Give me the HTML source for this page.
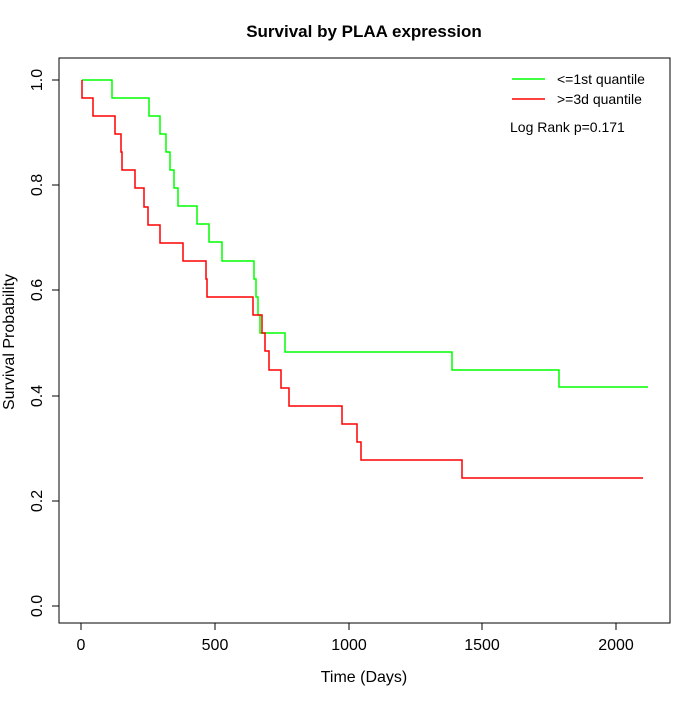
<!DOCTYPE html>
<html><head><style>body{margin:0;background:#fff}</style></head><body>
<svg width="700" height="700" xmlns="http://www.w3.org/2000/svg" font-family="Liberation Sans, sans-serif">
<rect width="700" height="700" fill="#fff"/>
<text x="364" y="37" text-anchor="middle" font-size="17" font-weight="bold">Survival by PLAA expression</text>
<rect x="59" y="58" width="611" height="565" fill="none" stroke="#000" stroke-width="1"/>
<g stroke="#000" stroke-width="1">
<line x1="81" y1="623" x2="616" y2="623"/>
<line x1="81" y1="623" x2="81" y2="630"/><line x1="215" y1="623" x2="215" y2="630"/><line x1="349" y1="623" x2="349" y2="630"/><line x1="482" y1="623" x2="482" y2="630"/><line x1="616" y1="623" x2="616" y2="630"/>
<line x1="59" y1="80" x2="59" y2="606"/>
<line x1="52" y1="80" x2="59" y2="80"/><line x1="52" y1="185" x2="59" y2="185"/><line x1="52" y1="290" x2="59" y2="290"/><line x1="52" y1="396" x2="59" y2="396"/><line x1="52" y1="501" x2="59" y2="501"/><line x1="52" y1="606" x2="59" y2="606"/>
</g>
<g font-size="16" text-anchor="middle">
<text x="81" y="650">0</text><text x="215" y="650">500</text><text x="349" y="650">1000</text><text x="482" y="650">1500</text><text x="616" y="650">2000</text>
<text x="364" y="682">Time (Days)</text>
<text transform="translate(42,80) rotate(-90)">1.0</text>
<text transform="translate(42,185) rotate(-90)">0.8</text>
<text transform="translate(42,290) rotate(-90)">0.6</text>
<text transform="translate(42,396) rotate(-90)">0.4</text>
<text transform="translate(42,501) rotate(-90)">0.2</text>
<text transform="translate(42,606) rotate(-90)">0.0</text>
<text transform="translate(14,342) rotate(-90)">Survival Probability</text>
</g>
<polyline fill="none" stroke="#00ff00" stroke-width="1.5" points="82,80 112,80 112,98 149,98 149,116 160,116 160,134 166,134 166,152 170,152 170,170 174,170 174,188 178,188 178,206 197,206 197,224 209,224 209,242 222,242 222,261 254,261 254,279 256,279 256,297 258,297 258,315 260,315 260,333 285,333 285,352 452,352 452,370 559,370 559,387 648,387"/>
<polyline fill="none" stroke="#ff0000" stroke-width="1.5" points="82,80 82,98 93,98 93,116 115,116 115,134 121,134 121,152 122,152 122,170 135,170 135,188 144,188 144,207 148,207 148,225 160,225 160,243 183,243 183,261 206,261 206,279 207,279 207,297 253,297 253,315 262,315 262,333 265,333 265,351 269,351 269,370 281,370 281,388 289,388 289,406 342,406 342,424 357,424 357,442 361,442 361,460 462,460 462,478 643,478"/>
<line x1="512" y1="79" x2="545" y2="79" stroke="#00ff00" stroke-width="1.5"/>
<line x1="512" y1="99" x2="545" y2="99" stroke="#ff0000" stroke-width="1.5"/>
<g font-size="14">
<text x="557" y="84">&lt;=1st quantile</text>
<text x="557" y="104">&gt;=3d quantile</text>
<text x="510" y="132">Log Rank p=0.171</text>
</g>
</svg>
</body></html>
